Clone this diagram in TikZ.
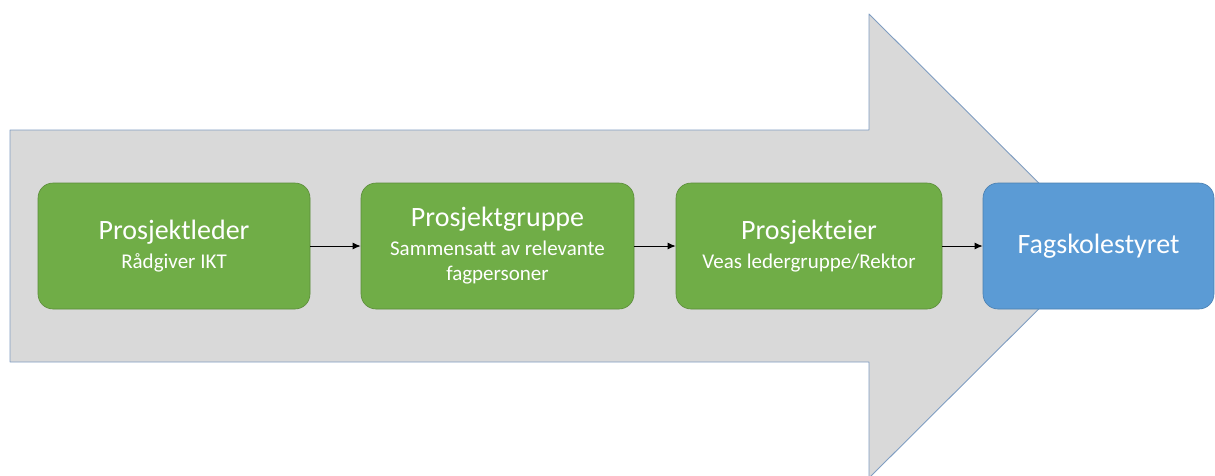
\documentclass[tikz,border=0pt]{standalone}
\usepackage{fontspec}
\setmainfont{Carlito}
\usetikzlibrary{arrows.meta}
\definecolor{pilgra}{HTML}{D9D9D9}
\definecolor{pilkant}{HTML}{7F9DC2}
\definecolor{gronn}{HTML}{70AD47}
\definecolor{gronnkant}{HTML}{5B8C3A}
\definecolor{bla}{HTML}{5B9BD5}
\definecolor{blakant}{HTML}{4A7FB0}
\newcommand\tittelfont{\fontsize{28}{30}\selectfont}
\newcommand\underfont{\fontsize{21}{25}\selectfont}
\begin{document}
\begin{tikzpicture}[x=1pt, y=-1pt, line join=round, >={Latex[length=8pt, width=7pt]}]
			\useasboundingbox (0,0) rectangle (1215,475);
			\def\my{246}
			\tikzset{boks/.style={rounded corners=15pt, minimum height=126pt, inner sep=0pt, align=center, text=white, font=\underfont, line width=.6pt},
				ledd/.style={boks, fill=gronn, draw=gronnkant},
				topp/.style={boks, fill=bla, draw=blakant}}
			% stor pil bak
			\draw[pilkant, fill=pilgra, line width=.9pt] (10,130)--(869,130)--(869,14)--(1102,\my)--(869,478)--(869,362)--(10,362)--cycle;
			% boksene
			\node[ledd, minimum width=272pt] (leder) at (174,\my) {{\tittelfont Prosjektleder}\\[4pt] Rådgiver IKT};
			\node[ledd, minimum width=273pt] (gruppe) at (497.5,\my) {{\tittelfont Prosjektgruppe}\\[4pt] Sammensatt av relevante\\ fagpersoner};
			\node[ledd, minimum width=266pt] (eier) at (809,\my) {{\tittelfont Prosjekteier}\\[4pt] Veas ledergruppe/Rektor};
			\node[topp, minimum width=231pt] (styret) at (1098.5,\my) {\tittelfont Fagskolestyret};
			\foreach \a/\b in {leder/gruppe, gruppe/eier, eier/styret} \draw[->, line width=1pt] (\a)--(\b);
		\end{tikzpicture}
\end{document}
